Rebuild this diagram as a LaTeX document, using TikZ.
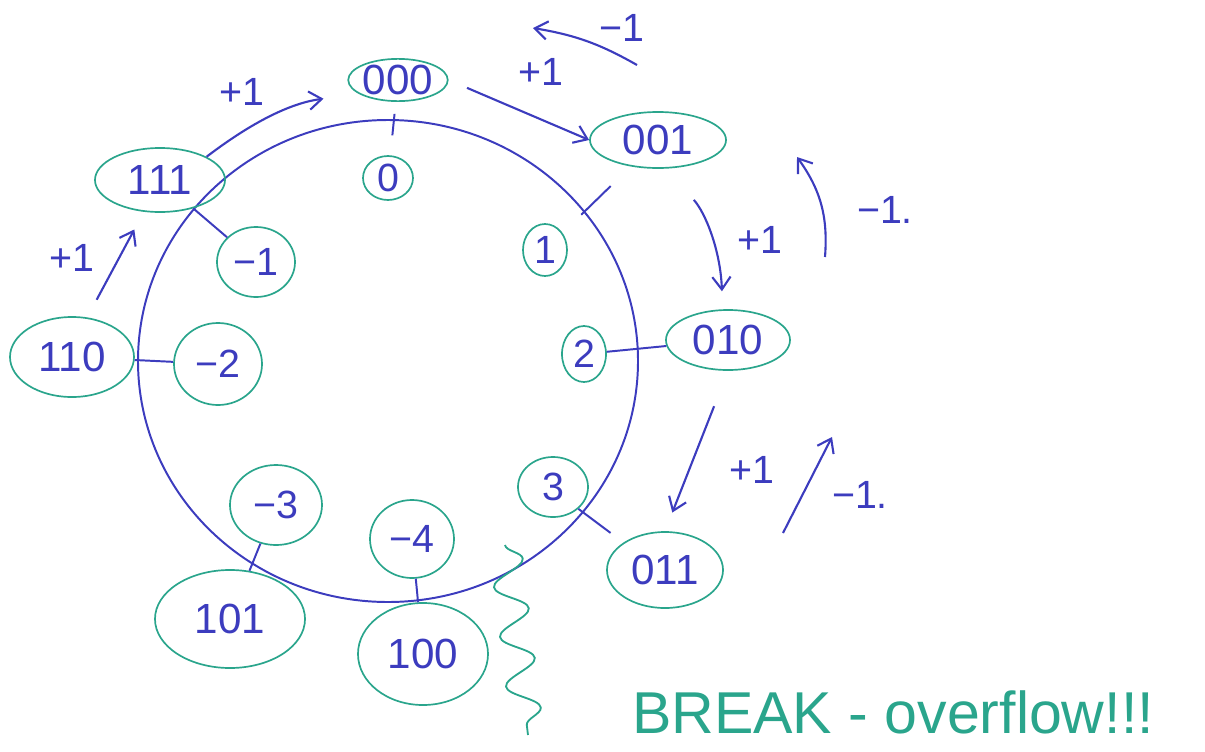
\documentclass[tikz,border=0pt]{standalone}
\usepackage{fontspec}
\setmainfont{Liberation Sans}
\usepackage{tikz}
\usetikzlibrary{shapes.geometric,arrows.meta,decorations.pathmorphing}
\definecolor{InkBlue}{HTML}{3C3CBE}
\definecolor{InkGreen}{HTML}{2AA58C}

\begin{document}
\begin{tikzpicture}[x=0.025cm,y=-0.025cm,>={Straight Barb[length=9pt,width=13pt]},
  bin/.style={ellipse,draw=InkGreen,line width=1.2pt,text=InkBlue,inner sep=0pt,
    font=\fontsize{30}{32}\selectfont},
  val/.style={ellipse,draw=InkGreen,line width=1.2pt,text=InkBlue,inner sep=0pt,
    font=\fontsize{28}{30}\selectfont},
  inc/.style={->,line width=1.5pt,color=InkBlue},
  tick/.style={line width=1.4pt,color=InkBlue},
  note/.style={text=InkBlue,font=\fontsize{28}{30}\selectfont}]
  \useasboundingbox (0,0) rectangle (1205,751);
  \draw[InkBlue,line width=1.4pt] (388,361) ellipse [x radius=250,y radius=241];
  % bit patterns round the outside
  \node[bin,minimum width=2.4cm,minimum height=1.0cm] (b000) at (398,80) {000};
  \node[bin,minimum width=3.4cm,minimum height=1.4cm] (b001) at (658,140) {001};
  \node[bin,minimum width=3.1cm,minimum height=1.5cm] (b010) at (728,340) {010};
  \node[bin,minimum width=2.9cm,minimum height=1.9cm] (b011) at (665,570) {011};
  \node[bin,minimum width=3.25cm,minimum height=2.55cm] (b100) at (423,654) {100};
  \node[bin,minimum width=3.75cm,minimum height=2.45cm] (b101) at (230,619) {101};
  \node[bin,minimum width=3.1cm,minimum height=2.0cm] (b110) at (72,357) {110};
  \node[bin,minimum width=3.25cm,minimum height=1.6cm] (b111) at (160,180) {111};
  % signed values round the inside
  \node[val,minimum width=1.25cm,minimum height=1.1cm] (v0) at (388,178) {0};
  \node[val,minimum width=1.1cm,minimum height=1.3cm] (v1) at (545,250) {1};
  \node[val,minimum width=1.1cm,minimum height=1.4cm] (v2) at (584,354) {2};
  \node[val,minimum width=1.75cm,minimum height=1.5cm] (v3) at (553,487) {3};
  \node[val,minimum width=2.1cm,minimum height=1.95cm] (vm4) at (412,539) {−4};
  \node[val,minimum width=2.3cm,minimum height=2.0cm] (vm3) at (276,505) {−3};
  \node[val,minimum width=2.2cm,minimum height=2.05cm] (vm2) at (218,364) {−2};
  \node[val,minimum width=1.95cm,minimum height=1.75cm] (vm1) at (256,262) {−1};
  % ticks across the ring
  \draw[tick,shorten <=0.5cm,shorten >=0.3cm] (v0) -- (b000);
  \draw[tick,shorten <=0.65cm,shorten >=0.7cm] (v1) -- (b001);
  \draw[tick] (v2) -- (b010);
  \draw[tick,shorten >=0.4cm] (v3.south east) -- (b011.north west);
  \draw[tick] (vm4) -- (b100);
  \draw[tick] (vm3) -- (b101);
  \draw[tick] (b110) -- (vm2);
  \draw[tick] (b111) -- (vm1);
  % +1 steps
  \draw[inc,shorten >=0.9cm] (b111.north east) to[bend left=15] (b000.200);
  \draw[inc,shorten <=0.5cm,shorten >=0.5cm] (b110.69) -- (b111.243);
  \draw[inc,shorten <=0.5cm] (b000.east) -- (b001.west);
  \draw[inc,shorten <=1.05cm,shorten >=0.45cm] (b001.-75) to[bend left=20] (b010.100);
  \draw[inc,shorten <=0.95cm,shorten >=0.5cm] (b010.south) -- (b011.north);
  \node[note] (p0) at (242,92) {+1};
  \node[note] (p1) at (72,258) {+1};
  \node[note] (p2) at (541,72) {+1};
  \node[note] (p3) at (760,240) {+1};
  \node[note] (p4) at (752,470) {+1};
  % -1 steps
  \coordinate (d0a) at (637,65);
  \coordinate (d0b) at (533,28);
  \coordinate (d1a) at (825,257);
  \coordinate (d1b) at (797,157);
  \coordinate (d2a) at (783,533);
  \coordinate (d2b) at (832,437);
  \draw[inc] (d0a) to[bend right=10] (d0b);
  \draw[inc] (d1a) to[bend right=20] (d1b);
  \draw[inc] (d2a) -- (d2b);
  \node[note] (m0) at (622,28) {−1};
  \node[note] (m1) at (885,210) {−1.};
  \node[note] (m2) at (860,495) {−1.};
  % overflow
  \coordinate (z0) at (505,545);
  \coordinate (z1) at (528,735);
  \draw[InkGreen,line width=1.3pt,decorate,
    decoration={snake,amplitude=0.4cm,segment length=1.25cm}] (z0) -- (z1);
  \node[text=InkGreen,font=\fontsize{42}{44}\selectfont] (brk) at (893,712)
    {BREAK - overflow!!!};
\end{tikzpicture}
\end{document}
